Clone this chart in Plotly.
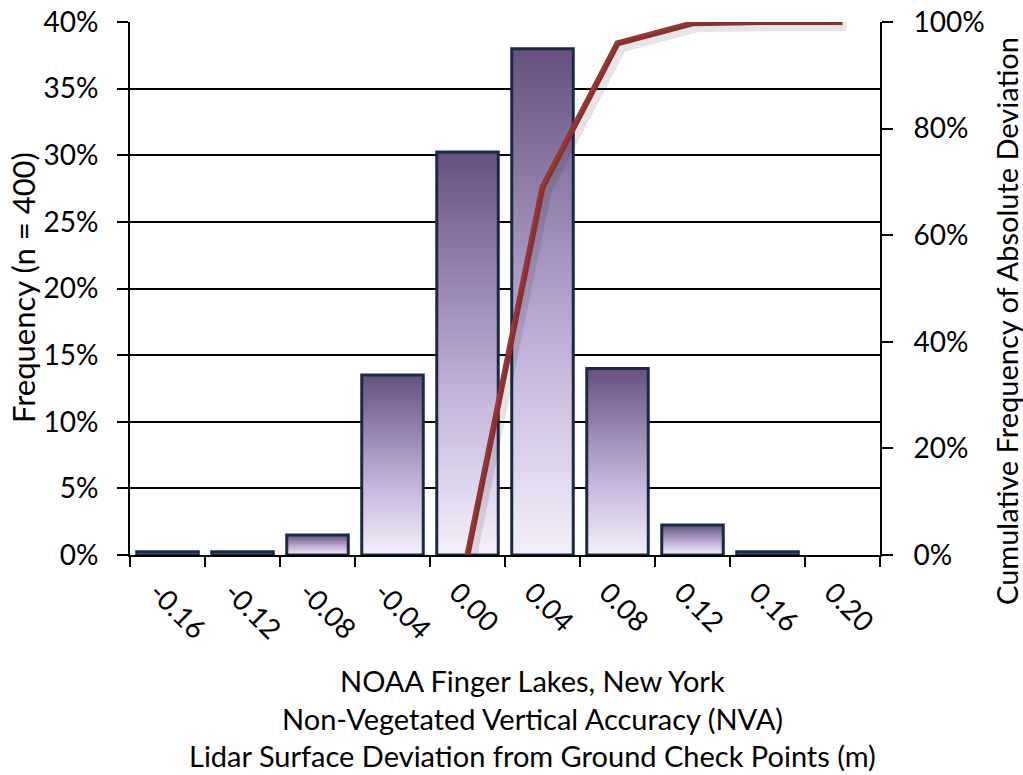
import plotly.graph_objects as go

# Histogram of lidar surface deviation (bin centres, metres)
bins = ["-0.16", "-0.12", "-0.08", "-0.04", "0.00", "0.04", "0.08", "0.12", "0.16", "0.20"]
freq_pct = [0.25, 0.25, 1.5, 13.5, 30.25, 38.0, 14.0, 2.25, 0.25, 0.0]

# Cumulative frequency of absolute deviation
cum_bins = ["0.00", "0.04", "0.08", "0.12", "0.16", "0.20"]
cum_pct = [0.0, 69.0, 96.0, 99.75, 100.0, 100.0]

freq_ticks = [0, 5, 10, 15, 20, 25, 30, 35, 40]
cum_ticks = [0, 20, 40, 60, 80, 100]

FONT = "Lato"
W, H = 1023, 775
L, R, T, B = 130, 143, 22, 220
plot_w = W - L - R
plot_h = H - T - B

x_idx = list(range(len(bins)))
x_range = [-0.5, len(bins) - 0.5]
half = 0.41

fig = go.Figure()

# bars with a vertical purple gradient
for i, v in zip(x_idx, freq_pct):
    if v <= 0:
        continue
    fig.add_trace(go.Scatter(
        x=[i - half, i - half, i + half, i + half, i - half],
        y=[0, v, v, 0, 0],
        mode="lines",
        fill="toself",
        fillgradient=dict(
            type="vertical",
            colorscale=[[0, "#F4F0FA"], [0.4, "#C3B3DA"], [1, "#65517F"]],
            start=0, stop=v,
        ),
        line=dict(color="#1B2A44", width=3),
        hoverinfo="skip",
        showlegend=False,
        xaxis="x", yaxis="y",
    ))

cum_x = [bins.index(b) for b in cum_bins]

# soft drop shadow under the cumulative line (drawn on offset hidden axes)
dx_units = 4 / plot_w * (x_range[1] - x_range[0])
dy_units = 4 / plot_h * 100
fig.add_trace(go.Scatter(
    x=cum_x, y=cum_pct, mode="lines",
    line=dict(color="rgba(0,0,0,0.10)", width=10),
    hoverinfo="skip", showlegend=False,
    xaxis="x2", yaxis="y2",
))

# cumulative line
fig.add_trace(go.Scatter(
    x=cum_x, y=cum_pct, mode="lines",
    line=dict(color="#953735", width=6),
    showlegend=False,
    xaxis="x", yaxis="y3",
))

axis_font = dict(family=FONT, size=28, color="black")

fig.update_layout(
    width=W, height=H,
    margin=dict(l=L, r=R, t=T, b=B, autoexpand=False),
    paper_bgcolor="white", plot_bgcolor="white",
    font=dict(family=FONT, color="black"),
    xaxis=dict(
        range=x_range, automargin=False,
        tickmode="array", tickvals=x_idx, ticktext=bins,
        tickangle=45, ticks="", tickfont=axis_font,
        minor=dict(tickmode="array", tickvals=[i - 0.5 for i in range(len(bins) + 1)],
                   ticks="outside", ticklen=10, tickwidth=2, tickcolor="black"),
        showline=True, linecolor="black", linewidth=2,
        showgrid=False, zeroline=False,
        ticklabelstandoff=8, ticklabelshift=-10,
    ),
    yaxis=dict(
        range=[0, 40], automargin=False,
        tickmode="array", tickvals=freq_ticks,
        ticktext=[f"{t}%" for t in freq_ticks],
        ticks="outside", ticklen=11, tickwidth=2, tickcolor="black",
        tickfont=axis_font,
        showline=True, linecolor="black", linewidth=2,
        showgrid=True, gridcolor="black", gridwidth=2,
        zeroline=False,
        ticklabelstandoff=13,
    ),
    xaxis2=dict(
        range=[x_range[0] - dx_units, x_range[1] - dx_units],
        overlaying="x", visible=False,
    ),
    yaxis2=dict(
        range=[dy_units, 100 + dy_units],
        overlaying="y", visible=False, anchor="x2",
    ),
    yaxis3=dict(
        range=[0, 100], overlaying="y", side="right", automargin=False,
        tickmode="array", tickvals=cum_ticks,
        ticktext=[f"{t}%" for t in cum_ticks],
        ticks="outside", ticklen=11, tickwidth=2, tickcolor="black",
        tickfont=axis_font,
        showline=True, linecolor="black", linewidth=2,
        showgrid=False, zeroline=False,
        ticklabelstandoff=15,
    ),
)

def px_to_paper_x(px):
    return (px - L) / plot_w

def px_to_paper_y(py):
    return (H - B - py) / plot_h

fig.add_annotation(
    text="Frequency (n = 400)", textangle=-90, showarrow=False,
    xref="paper", yref="paper", x=px_to_paper_x(23), y=px_to_paper_y(288),
    xanchor="center", yanchor="middle",
    font=dict(family=FONT, size=31, color="black"),
)
fig.add_annotation(
    text="Cumulative Frequency of Absolute Deviation", textangle=-90, showarrow=False,
    xref="paper", yref="paper", x=px_to_paper_x(1006), y=px_to_paper_y(321),
    xanchor="center", yanchor="middle",
    font=dict(family=FONT, size=29, color="black"),
)

x_title_lines = [
    ("NOAA Finger Lakes, New York", 680),
    ("Non-Vegetated Vertical Accuracy (NVA)", 718),
    ("Lidar Surface Deviation from Ground Check Points (m)", 755),
]
for txt, py in x_title_lines:
    fig.add_annotation(
        text=txt, showarrow=False,
        xref="paper", yref="paper", x=px_to_paper_x(532), y=px_to_paper_y(py),
        xanchor="center", yanchor="middle",
        font=dict(family=FONT, size=29, color="black"),
    )

fig.write_html("out.html")
